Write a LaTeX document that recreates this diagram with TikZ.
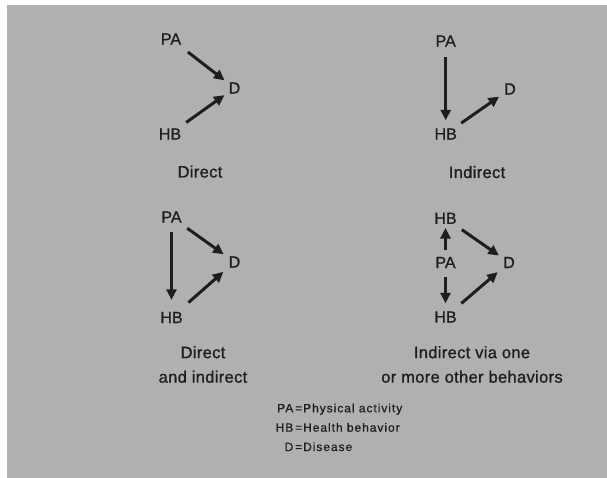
\documentclass[tikz,border=0pt]{standalone}
\usepackage{fontspec}
\setmainfont{Liberation Sans}
\newfontfamily\lblfont{Liberation Sans}[FakeBold=1]
\newfontfamily\capfont{Liberation Sans}[LetterSpace=2,FakeBold=1]
\newfontfamily\legfont{Liberation Sans}[LetterSpace=8,FakeBold=0.6]
\usetikzlibrary{arrows.meta}
\definecolor{bg}{RGB}{176,176,176}
\definecolor{ink}{RGB}{30,30,30}
\begin{document}
\begin{tikzpicture}[x=1pt,y=-1pt,
  lbl/.style={font=\lblfont\fontsize{16}{18}\selectfont, text=ink, inner sep=0pt},
  capt/.style={font=\capfont\fontsize{16.5}{24.5}\selectfont, text=ink, align=center, inner sep=0pt},
  leg/.style={font=\legfont\fontsize{12}{14}\selectfont, text=ink, inner sep=0pt},
  arr/.style={draw=ink, line width=3pt, -{Triangle[length=10.5pt,width=10pt]}}]
\useasboundingbox (0,0) rectangle (607,478);
\fill[white] (0,0) rectangle (607,478);
\fill[bg] (7,5) rectangle (607,478);

% Panel 1: Direct
\node[lbl] (pa1) at (171,39) {PA};
\node[lbl] (d1) at (234.5,88) {D};
\node[lbl] (hb1) at (170,134) {HB};
\node[capt, anchor=base] (c1) at (200,177.5) {Direct};
\draw[arr, shorten <=12pt, shorten >=5pt] (pa1) -- (d1);
\draw[arr, shorten <=10pt, shorten >=5pt] (hb1) -- (d1);

% Panel 2: Indirect
\node[lbl] (pa2) at (445.7,41) {PA};
\node[lbl] (d2) at (510,89) {D};
\node[lbl] (hb2) at (445.7,134) {HB};
\node[capt, anchor=base] (c2) at (477,178) {Indirect};
\draw[arr, shorten <=10pt, shorten >=8pt] (pa2) -- (hb2);
\draw[arr, shorten <=9pt, shorten >=6pt] (hb2) -- (d2);

% Panel 3: Direct and indirect
\node[lbl] (pa3) at (171.5,217) {PA};
\node[lbl] (d3) at (234.5,262) {D};
\node[lbl] (hb3) at (171.5,317.5) {HB};
\node[capt, anchor=north] (c3) at (203,346) {Direct\\and indirect};
\draw[arr, shorten <=9pt, shorten >=12pt] (pa3) -- (hb3);
\draw[arr, shorten <=9.5pt, shorten >=6pt] (pa3) -- (d3);
\draw[arr, shorten <=14pt, shorten >=7pt] (hb3) -- (d3);

% Panel 4: Indirect via one or more other behaviors
\node[lbl] (hbt) at (445.5,218.3) {HB};
\node[lbl] (pa4) at (445.5,262.5) {PA};
\node[lbl] (hbb) at (445.5,317) {HB};
\node[lbl] (d4) at (509,262.5) {D};
\node[capt, anchor=north] (c4) at (472,346) {Indirect via one\\or more other behaviors};
\draw[arr, shorten <=6.5pt, shorten >=4pt] (pa4) -- (hbt);
\draw[arr, shorten <=8.5pt, shorten >=8pt] (pa4) -- (hbb);
\draw[arr, shorten <=10pt, shorten >=5pt] (hbt) -- (d4);
\draw[arr, shorten <=12pt, shorten >=7pt] (hbb) -- (d4);

% Legend
\node[leg, anchor=base east] (k1) at (293.5,412.3) {PA};
\node[leg, anchor=base west] (v1) at (295,412.3) {=Physical activity};
\node[leg, anchor=base east] (k2) at (293.5,431.7) {HB};
\node[leg, anchor=base west] (v2) at (295,431.7) {=Health behavior};
\node[leg, anchor=base east] (k3) at (293.5,451) {D};
\node[leg, anchor=base west] (v3) at (295,451) {=Disease};
\end{tikzpicture}
\end{document}
